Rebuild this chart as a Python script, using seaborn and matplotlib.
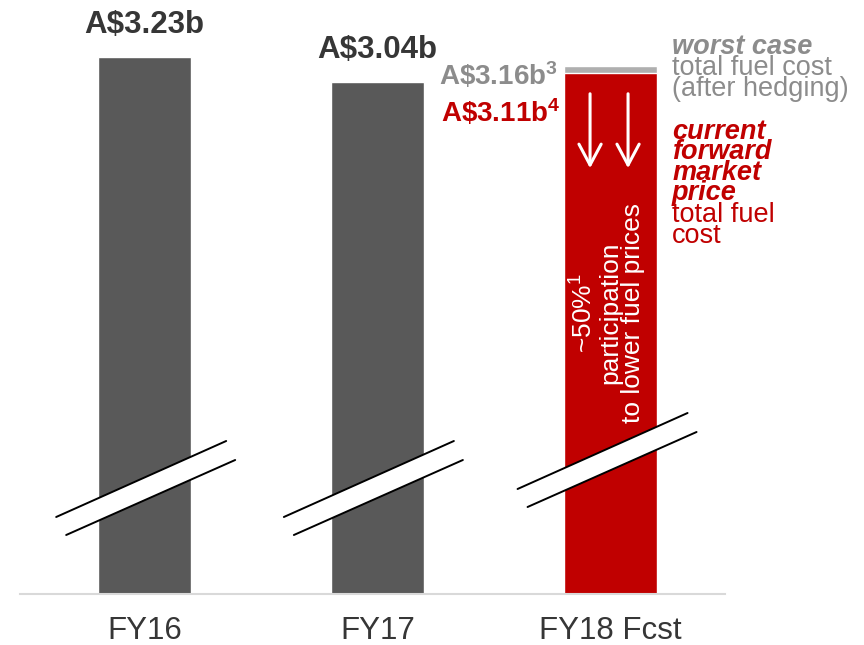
import numpy as np
import pandas as pd
import matplotlib
matplotlib.use("Agg")
import matplotlib.pyplot as plt
import matplotlib.transforms as mtransforms
import seaborn as sns

# ---------------- DATA ----------------
categories = ["FY16", "FY17", "FY18 Fcst"]
worst_case_cost = [3.23, 3.04, 3.16]      # A$b, FY18 = worst case after hedging
forward_price_cost = [3.11]               # A$b, FY18 at current forward market price
footnote_worst = "3"
footnote_forward = "4"

# ---------------- STYLE ----------------
DARK = "#595959"
GREY = "#AFAFAF"
RED = "#C00000"
TEXT_DARK = "#363636"
TEXT_GREY = "#8C8C8C"
WHITE = "#FFFFFF"

sns.set_style("white")
plt.rcParams["font.family"] = ["Liberation Sans", "DejaVu Sans"]
plt.rcParams["mathtext.default"] = "regular"

# broken value axis: compressed below BREAK_V, stretched above it
REF_V, REF_H, PX_PER_B = 3.135, 524.5, 134.7
BREAK_V = 2.5
BREAK_H = REF_H + PX_PER_B * (BREAK_V - REF_V)


def fwd(v):
    v = np.asarray(v, dtype=float)
    return np.where(v >= BREAK_V, REF_H + PX_PER_B * (v - REF_V), v * BREAK_H / BREAK_V)


def inv(h):
    h = np.asarray(h, dtype=float)
    return np.where(h >= BREAK_H, REF_V + (h - REF_H) / PX_PER_B, h * BREAK_V / BREAK_H)


W, H = 864, 645
AX_L, AX_R, AX_B, AX_T = 20, 725, 594, 20
fig = plt.figure(figsize=(W / 100, H / 100), dpi=100)
ax = fig.add_axes([AX_L / W, (H - AX_B) / H, (AX_R - AX_L) / W, (AX_B - AX_T) / H])

# ---------------- BARS ----------------
df = pd.DataFrame({"period": categories, "cost": worst_case_cost})
sns.barplot(data=df, x="period", y="cost", hue="period", order=categories,
            palette={categories[0]: DARK, categories[1]: DARK, categories[2]: GREY},
            width=0.4, saturation=1, legend=False, ax=ax)
fy18 = pd.DataFrame({"period": categories[2:], "cost": forward_price_cost})
sns.barplot(data=fy18, x="period", y="cost", order=categories, color=RED,
            width=0.4, saturation=1, ax=ax)

ax.set_yscale("function", functions=(fwd, inv))
ax.set_ylim(0, float(inv(AX_B - AX_T)))
X0, X1 = -0.5358, 2.494
ax.set_xlim(X0, X1)
PX_PER_CAT = (AX_R - AX_L) / (X1 - X0)

ax.set_yticks([])
ax.set_xlabel("")
ax.set_ylabel("")
for s in ["top", "left", "right"]:
    ax.spines[s].set_visible(False)
ax.spines["bottom"].set_color("#D9D9D9")
ax.spines["bottom"].set_linewidth(1.5)
ax.tick_params(axis="x", length=0, pad=16, labelsize=22.5, labelcolor=TEXT_DARK)

# x in data, y in image pixels (from top)
blend = mtransforms.blended_transform_factory(ax.transData, ax.transAxes)


def ypx(py):
    return (AX_B - py) / (AX_B - AX_T)


def xoff(i, dx):
    return i + dx / PX_PER_CAT


# ---------------- VALUE LABELS ----------------
for i in range(2):
    ax.annotate(f"A${worst_case_cost[i]:.2f}b", xy=(i, worst_case_cost[i]),
                xytext=(0, 24), textcoords="offset pixels", ha="center", va="baseline",
                fontsize=22.5, fontweight="bold", color=TEXT_DARK)

ax.annotate(f"A\\${worst_case_cost[2]:.2f}b$^{footnote_worst}$", xy=(2 - 0.2, worst_case_cost[2]),
            xytext=(-6, -19), textcoords="offset pixels", ha="right", va="baseline",
            fontsize=20, fontweight="bold", color=TEXT_GREY)
ax.annotate(f"A\\${forward_price_cost[0]:.2f}b$^{footnote_forward}$", xy=(2 - 0.2, forward_price_cost[0]),
            xytext=(-3, -49), textcoords="offset pixels", ha="right", va="baseline",
            fontsize=20, fontweight="bold", color=RED)

# ---------------- SIDE NOTES ----------------
note_x = xoff(2, 62)
grey_lines = [("worst case", "bold", "italic", 54),
              ("total fuel cost", "normal", "normal", 75),
              ("(after hedging)", "normal", "normal", 96)]
for txt, wt, st, py in grey_lines:
    ax.text(note_x, ypx(py), txt, transform=blend, ha="left", va="baseline",
            fontsize=19.5, fontweight=wt, fontstyle=st, color=TEXT_GREY)

red_lines = [("current", "bold", "italic", 139),
             ("forward", "bold", "italic", 159),
             ("market", "bold", "italic", 180),
             ("price", "bold", "italic", 200),
             ("total fuel", "normal", "normal", 222),
             ("cost", "normal", "normal", 243)]
for txt, wt, st, py in red_lines:
    ax.text(note_x, ypx(py), txt, transform=blend, ha="left", va="baseline",
            fontsize=19.5, fontweight=wt, fontstyle=st, color=RED)

# ---------------- ARROWS & BAR TEXT ----------------
for dx in (-20, 18):
    ax.annotate("", xy=(xoff(2, dx), ypx(171)), xytext=(xoff(2, dx), ypx(91)),
                xycoords=blend, textcoords=blend,
                arrowprops=dict(arrowstyle="->,head_length=0.75,head_width=0.4",
                                mutation_scale=20, color=WHITE, lw=2.2))

bar_text = [("~50%$^1$", -26), ("participation", 0), ("to lower fuel prices", 23)]
for txt, dx in bar_text:
    ax.text(xoff(2, dx), ypx(313), txt, transform=blend, rotation=90,
            ha="center", va="center", fontsize=19, color=WHITE)

# ---------------- AXIS BREAK MARKS ----------------
upper = [(-88.5, 517), (81.5, 441)]
lower = [(-78.5, 535), (90.5, 460)]
shifts = [(0, 0), (-5, 0), (-4, -28)]
for i, (sx, sy) in enumerate(shifts):
    ux = [xoff(i, p[0] + sx) for p in upper]
    uy = [ypx(p[1] + sy) for p in upper]
    lx = [xoff(i, p[0] + sx) for p in lower]
    ly = [ypx(p[1] + sy) for p in lower]
    ax.fill(ux + lx[::-1], uy + ly[::-1], color=WHITE, transform=blend,
            zorder=5, clip_on=False, lw=0)
    ax.plot(ux, uy, color="black", lw=1.4, transform=blend, zorder=6, clip_on=False)
    ax.plot(lx, ly, color="black", lw=1.4, transform=blend, zorder=6, clip_on=False)

fig.savefig("out.png", dpi=100)
